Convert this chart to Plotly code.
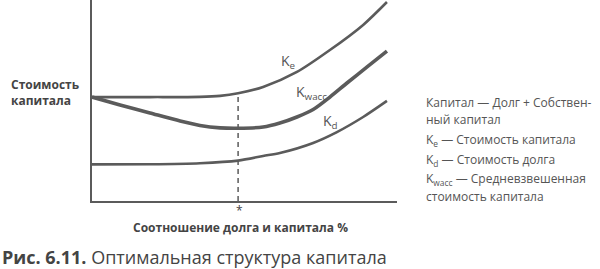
import plotly.graph_objects as go

W, H = 600, 269

# Data (debt/capital ratio %, cost of capital in arbitrary units)
ke_x = [0, 19.0, 35.4, 42.0, 47.9, 56.1, 67.2, 78.0, 88.9, 96.7]
ke_y = [51.7, 51.7, 51.8, 52.3, 53.6, 56.7, 64.2, 75.1, 87.6, 99.0]
kw_x = [0, 9.2, 19.0, 28.9, 35.4, 42.0, 47.9, 56.1, 61.6, 67.2, 72.5, 78.0, 83.6, 90.2, 96.7]
kw_y = [51.7, 47.8, 43.8, 39.8, 37.6, 36.4, 36.2, 36.8, 38.8, 41.8, 45.5, 51.7, 58.7, 66.7, 74.6]
kd_x = [0, 19.0, 35.4, 47.9, 56.1, 61.6, 72.5, 80.3, 88.9, 96.7]
kd_y = [18.2, 18.3, 18.8, 20.1, 22.4, 23.9, 28.9, 34.3, 41.8, 49.8]
opt_x = 47.9
opt_y = 53.6

legend_lines = [
    "Капитал — Долг + Собствен-",
    "ный капитал",
    "K<sub>e</sub> — Стоимость капитала",
    "K<sub>d</sub> — Стоимость долга",
    "K<sub>wacc</sub> — Средневзвешенная",
    "стоимость капитала",
]
legend_y_px = [102, 119, 140, 160, 179, 196]

LC = "#5b5b5b"
FONT = "Open Sans"

def px(x):
    return x / W

def py(y):
    return 1 - y / H

fig = go.Figure()
fig.add_trace(go.Scatter(x=ke_x, y=ke_y, mode="lines", line=dict(color=LC, width=2.6, shape="spline", smoothing=0.8), hoverinfo="skip"))
fig.add_trace(go.Scatter(x=kw_x, y=kw_y, mode="lines", line=dict(color=LC, width=3.6, shape="spline", smoothing=0.8), hoverinfo="skip"))
fig.add_trace(go.Scatter(x=kd_x, y=kd_y, mode="lines", line=dict(color=LC, width=2.6, shape="spline", smoothing=0.8), hoverinfo="skip"))
fig.add_trace(go.Scatter(x=[opt_x, opt_x], y=[0, opt_y], mode="lines", line=dict(color=LC, width=1.5, dash="5px,4px"), hoverinfo="skip"))

# plot area in pixels: x 92..397, y 0..201
fig.update_layout(
    width=W, height=H, autosize=False,
    margin=dict(l=0, r=0, t=0, b=0),
    paper_bgcolor="white", plot_bgcolor="white",
    showlegend=False,
    font=dict(family=FONT, color="#444"),
    xaxis=dict(domain=[px(92), px(397)], range=[0, 100], showgrid=False, zeroline=False,
               showticklabels=False, ticks="", showline=True, linecolor=LC, linewidth=2),
    yaxis=dict(domain=[py(201), 1], range=[0, 100], showgrid=False, zeroline=False,
               showticklabels=False, ticks="", showline=True, linecolor=LC, linewidth=2),
)

ann = []

def add(x, y, text, size, color="#444", xanchor="center", align="center"):
    ann.append(dict(x=px(x), y=py(y), xref="paper", yref="paper", xanchor=xanchor, yanchor="middle",
                    align=align, text=text, showarrow=False,
                    font=dict(size=size, color=color, family=FONT)))

# curve labels
add(288, 62, "K<sub>e</sub>", 14, "#555")
add(311, 92, "K<sub>wacc</sub>", 14, "#555")
add(330, 121, "K<sub>d</sub>", 14, "#555")
# y title
add(9, 92, "<b>Стоимость<br>капитала</b>", 12, xanchor="left", align="left")
# asterisk and x title
add(239, 210, "*", 12)
add(240, 227, "<b>Соотношение долга и капитала %</b>", 12)
# caption
add(0, 257, "<b>Рис. 6.11.</b> Оптимальная структура капитала", 18, xanchor="left")
# legend text
for t, yy in zip(legend_lines, legend_y_px):
    add(424, yy, t, 12, "#555", xanchor="left", align="left")

fig.update_layout(annotations=ann)
fig.write_html("out.html")
